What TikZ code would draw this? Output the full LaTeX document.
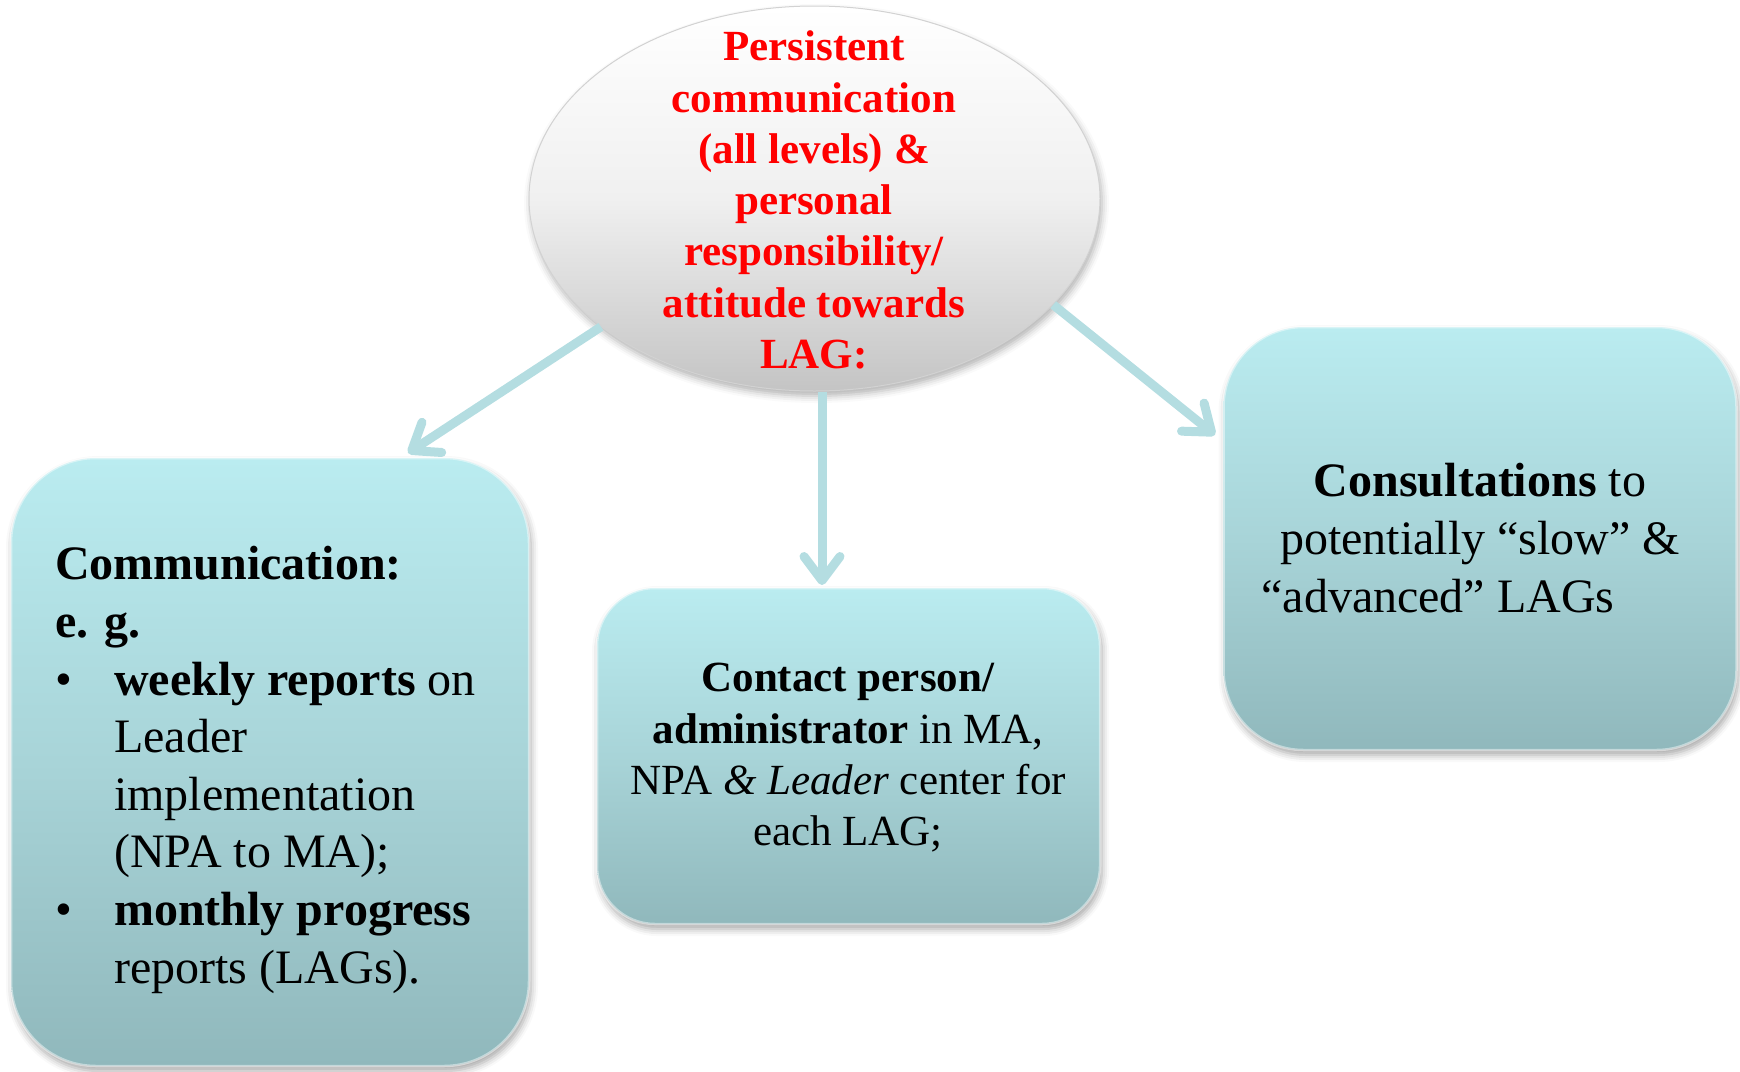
\documentclass[tikz,border=0pt]{standalone}
\usepackage{fontspec}
\setmainfont{Liberation Serif}
\usetikzlibrary{shapes.geometric,arrows.meta,shadows.blur}
\definecolor{arrowc}{RGB}{180,221,225}
\definecolor{boxtop}{RGB}{186,236,240}
\definecolor{boxmid}{RGB}{168,212,216}
\definecolor{boxbot}{RGB}{144,184,188}
\definecolor{ellmid}{RGB}{240,240,240}
\definecolor{ellbot}{RGB}{196,196,196}
\definecolor{redtext}{RGB}{255,0,0}
\tikzset{
  boxshape/.style={rectangle, top color=boxtop, bottom color=boxbot, middle color=boxmid,
    draw=white, draw opacity=0.45, line width=2.5pt, inner sep=0pt,
    blur shadow={shadow xshift=2pt, shadow yshift=-5pt, shadow blur radius=7pt, shadow opacity=35}},
  ellshape/.style={ellipse, top color=white, bottom color=ellbot, middle color=ellmid,
    draw=gray!35, line width=1pt, inner sep=0pt,
    blur shadow={shadow xshift=2pt, shadow yshift=-5pt, shadow blur radius=7pt, shadow opacity=30}},
  elltext/.style={text=redtext, font=\fontsize{43pt}{51.3pt}\selectfont\bfseries, align=center, inner sep=0pt},
  bigtext/.style={text=black, font=\fontsize{48pt}{57.6pt}\selectfont, inner sep=0pt},
  midtext/.style={text=black, font=\fontsize{43pt}{51.3pt}\selectfont, align=center, inner sep=0pt},
  conn/.style={draw=arrowc, line width=9pt, -{Straight Barb[length=24pt, width=36pt, round]}}
}
\begin{document}
\begin{tikzpicture}[x=1pt,y=-1pt]
\useasboundingbox (0,0) rectangle (1740,1071);
% shapes
\node[ellshape, minimum width=571pt, minimum height=385pt] (ell) at (814.5,198.5) {};
\node[boxshape, rounded corners=85pt, minimum width=518pt, minimum height=608pt] (lbox) at (270,762) {};
\node[boxshape, rounded corners=58pt, minimum width=503pt, minimum height=336pt] (mbox) at (848.5,756) {};
\node[boxshape, rounded corners=80pt, minimum width=513pt, minimum height=423pt] (rbox) at (1480,538.5) {};
% texts
\node[elltext] (ellt) at (814,200) {Persistent\\communication\\(all levels) \&\\personal\\responsibility/\\attitude towards\\LAG:};
\node[bigtext, align=left, anchor=west] (lt) at (55,770) {%
\textbf{Communication:}\\
\textbf{e. g.}\\
\makebox[59pt][l]{•}\textbf{weekly reports} on\\
\hspace*{59pt}Leader\\
\hspace*{59pt}implementation\\
\hspace*{59pt}(NPA to MA);\\
\makebox[59pt][l]{•}\textbf{monthly progress}\\
\hspace*{59pt}reports (LAGs).};
\node[midtext] (mt) at (848,758) {\textbf{Contact person/}\\\textbf{administrator} in MA,\\NPA \textit{\& Leader} center for\\each LAG;};
\node[bigtext, align=center] (rtx) at (1480,538) {\textbf{Consultations} to\\potentially “slow” \&\\“advanced” LAGs\hspace*{84pt}};
% connectors
\coordinate (ltip) at (408,453);
\coordinate (mtip) at (822,585);
\coordinate (rtip) at (1215,435);
\draw[conn] (ell.211) -- (ltip);
\draw[conn] (ell.south -| mtip) -- (mtip);
\draw[conn] (ell.-24) -- (rtip);
\end{tikzpicture}
\end{document}
